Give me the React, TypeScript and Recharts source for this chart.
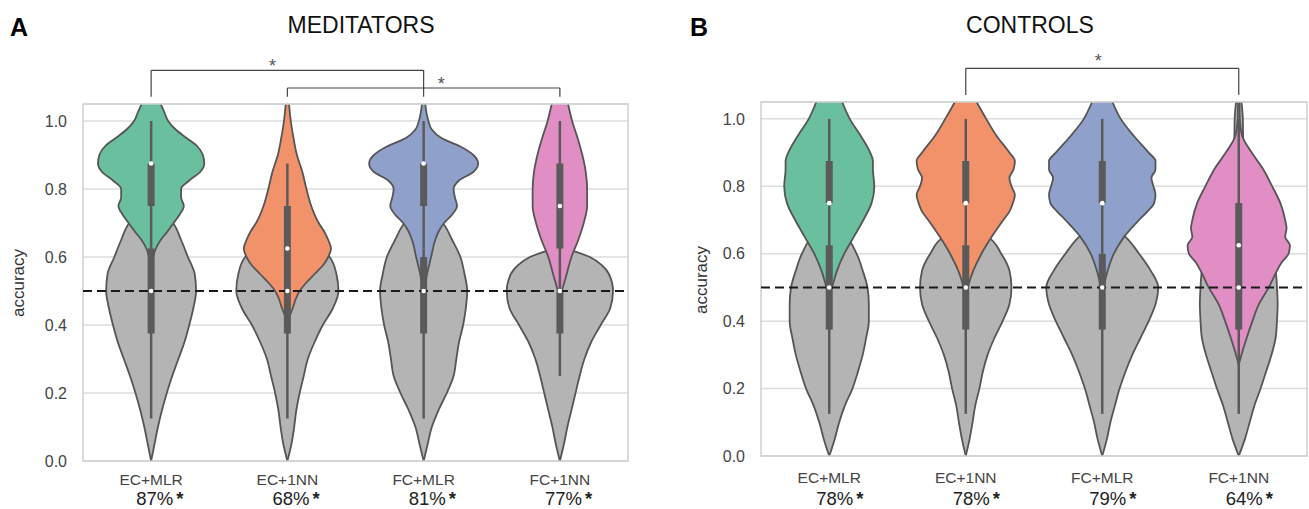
import React from 'react';
import { ComposedChart, Area, XAxis, YAxis, CartesianGrid, ReferenceLine, ReferenceDot, ReferenceArea } from 'recharts';

const CATEGORIES = ['EC+MLR', 'EC+1NN', 'FC+MLR', 'FC+1NN'];
const MED_PCT = ['87%', '68%', '81%', '77%'];
const CTRL_PCT = ['78%', '78%', '79%', '64%'];
const Y_TICKS = [0, 0.2, 0.4, 0.6, 0.8, 1.0];
const CHANCE = 0.5;

const COLORS = ['#6abf9f', '#f2926a', '#8fa1ca', '#e08ec3'];
const GRAY = '#b4b4b4';
const INK = '#555555';

// violin outlines: [accuracy, half width in category units]
const MED_EC_MLR = [[1.05, 0.07], [1.025, 0.098], [1.0, 0.125], [0.975, 0.18], [0.95, 0.26], [0.925, 0.34], [0.9, 0.38], [0.875, 0.39], [0.85, 0.36], [0.825, 0.28], [0.8, 0.22], [0.775, 0.22], [0.75, 0.24], [0.725, 0.21], [0.7, 0.165], [0.675, 0.12], [0.65, 0.07], [0.625, 0.035], [0.6, 0.015], [0.575, 0]];
const MED_EC_1NN = [[1.05, 0.012], [1.0, 0.025], [0.95, 0.045], [0.9, 0.07], [0.85, 0.11], [0.8, 0.14], [0.75, 0.175], [0.7, 0.23], [0.675, 0.27], [0.65, 0.3], [0.625, 0.32], [0.6, 0.3], [0.575, 0.26], [0.55, 0.2], [0.525, 0.14], [0.5, 0.09], [0.475, 0.06], [0.45, 0.04], [0.425, 0.015], [0.41, 0]];
const MED_FC_MLR = [[1.05, 0.012], [1.0, 0.035], [0.975, 0.06], [0.95, 0.13], [0.925, 0.27], [0.9, 0.365], [0.875, 0.4], [0.85, 0.365], [0.825, 0.26], [0.8, 0.22], [0.775, 0.23], [0.75, 0.245], [0.725, 0.21], [0.7, 0.15], [0.675, 0.11], [0.65, 0.085], [0.6, 0.055], [0.55, 0.025], [0.5, 0.005], [0.49, 0]];
const MED_FC_1NN = [[1.05, 0.06], [1.0, 0.09], [0.95, 0.13], [0.9, 0.165], [0.85, 0.19], [0.8, 0.2], [0.75, 0.2], [0.7, 0.175], [0.65, 0.135], [0.6, 0.085], [0.55, 0.05], [0.5, 0.015], [0.475, 0]];

const MED_EC_MLR_NULL = [[0.75, 0], [0.725, 0.1], [0.7, 0.16], [0.65, 0.22], [0.6, 0.27], [0.55, 0.32], [0.5, 0.33], [0.45, 0.31], [0.4, 0.28], [0.35, 0.245], [0.3, 0.2], [0.25, 0.155], [0.2, 0.115], [0.15, 0.08], [0.1, 0.05], [0.05, 0.025], [0, 0]];
const MED_EC_1NN_NULL = [[0.65, 0], [0.625, 0.2], [0.6, 0.31], [0.55, 0.36], [0.5, 0.375], [0.45, 0.335], [0.4, 0.26], [0.35, 0.2], [0.3, 0.15], [0.25, 0.12], [0.2, 0.09], [0.15, 0.066], [0.1, 0.05], [0.05, 0.03], [0, 0]];
const MED_FC_MLR_NULL = [[0.75, 0], [0.7, 0.14], [0.65, 0.21], [0.6, 0.27], [0.55, 0.3], [0.5, 0.32], [0.45, 0.31], [0.4, 0.29], [0.35, 0.26], [0.3, 0.24], [0.25, 0.22], [0.2, 0.17], [0.15, 0.11], [0.1, 0.06], [0.05, 0.03], [0, 0]];
const MED_FC_1NN_NULL = [[0.63, 0], [0.6, 0.22], [0.575, 0.31], [0.55, 0.36], [0.5, 0.39], [0.45, 0.37], [0.4, 0.3], [0.35, 0.23], [0.3, 0.18], [0.25, 0.145], [0.2, 0.115], [0.15, 0.085], [0.1, 0.055], [0.05, 0.03], [0, 0]];

const CTRL_EC_MLR = [[1.05, 0.095], [1.0, 0.15], [0.95, 0.23], [0.9, 0.3], [0.875, 0.32], [0.85, 0.32], [0.8, 0.33], [0.75, 0.31], [0.7, 0.25], [0.65, 0.18], [0.6, 0.11], [0.55, 0.057], [0.5, 0.02], [0.475, 0]];
const CTRL_EC_1NN = [[1.05, 0.08], [1.0, 0.15], [0.95, 0.225], [0.9, 0.32], [0.875, 0.36], [0.85, 0.35], [0.825, 0.32], [0.8, 0.335], [0.775, 0.36], [0.75, 0.345], [0.725, 0.32], [0.7, 0.275], [0.65, 0.19], [0.6, 0.115], [0.55, 0.055], [0.5, 0.015], [0.475, 0]];
const CTRL_FC_MLR = [[1.05, 0.075], [1.0, 0.135], [0.95, 0.23], [0.9, 0.34], [0.875, 0.39], [0.85, 0.39], [0.825, 0.36], [0.8, 0.375], [0.775, 0.39], [0.75, 0.38], [0.725, 0.33], [0.7, 0.27], [0.65, 0.16], [0.6, 0.085], [0.55, 0.04], [0.5, 0.01], [0.48, 0]];
const CTRL_FC_1NN = [[1.05, 0.005], [1.0, 0.008], [0.95, 0.025], [0.9, 0.095], [0.85, 0.18], [0.8, 0.245], [0.75, 0.305], [0.7, 0.34], [0.675, 0.35], [0.65, 0.34], [0.625, 0.375], [0.6, 0.365], [0.575, 0.315], [0.55, 0.28], [0.5, 0.22], [0.45, 0.147], [0.4, 0.1], [0.35, 0.058], [0.3, 0.02], [0.27, 0]];

const CTRL_EC_MLR_NULL = [[0.68, 0], [0.65, 0.12], [0.6, 0.2], [0.55, 0.245], [0.5, 0.28], [0.45, 0.29], [0.4, 0.29], [0.35, 0.27], [0.3, 0.245], [0.25, 0.21], [0.2, 0.17], [0.15, 0.115], [0.1, 0.073], [0.05, 0.04], [0, 0]];
const CTRL_EC_1NN_NULL = [[0.68, 0], [0.65, 0.16], [0.6, 0.26], [0.55, 0.32], [0.5, 0.335], [0.45, 0.32], [0.4, 0.27], [0.35, 0.21], [0.3, 0.16], [0.25, 0.125], [0.2, 0.1], [0.15, 0.07], [0.1, 0.05], [0.05, 0.028], [0, 0]];
const CTRL_FC_MLR_NULL = [[0.7, 0], [0.65, 0.17], [0.6, 0.27], [0.55, 0.355], [0.5, 0.41], [0.45, 0.39], [0.4, 0.34], [0.35, 0.28], [0.3, 0.22], [0.25, 0.17], [0.2, 0.127], [0.15, 0.093], [0.1, 0.06], [0.05, 0.034], [0, 0]];
const CTRL_FC_1NN_NULL = [[1.05, 0.02], [1.0, 0.03], [0.95, 0.032], [0.9, 0.04], [0.85, 0.05], [0.8, 0.065], [0.75, 0.09], [0.7, 0.12], [0.65, 0.17], [0.6, 0.23], [0.55, 0.27], [0.5, 0.28], [0.45, 0.285], [0.4, 0.28], [0.35, 0.27], [0.3, 0.24], [0.25, 0.2], [0.2, 0.16], [0.15, 0.115], [0.1, 0.08], [0.05, 0.045], [0, 0]];

// inner box plots: [whisker low, q1, median, q3, whisker high]
const MED_BOX = [[0.625, 0.75, 0.875, 0.875, 1.0], [0.375, 0.5, 0.625, 0.75, 0.875], [0.625, 0.75, 0.875, 0.875, 1.0], [0.5, 0.625, 0.75, 0.875, 1.0]];
const MED_NULL_BOX = [[0.125, 0.375, 0.5, 0.625, 0.625], [0.125, 0.375, 0.5, 0.5, 0.625], [0.125, 0.375, 0.5, 0.6, 0.625], [0.25, 0.375, 0.5, 0.5, 0.5]];
const CTRL_BOX = [[0.625, 0.75, 0.75, 0.875, 1.0], [0.625, 0.75, 0.75, 0.875, 1.0], [0.6, 0.75, 0.75, 0.875, 1.0], [0.375, 0.5, 0.625, 0.75, 1.0]];
const CTRL_NULL_BOX = [[0.125, 0.375, 0.5, 0.625, 0.625], [0.125, 0.375, 0.5, 0.625, 0.625], [0.125, 0.375, 0.5, 0.6, 0.6], [0.125, 0.375, 0.5, 0.5, 0.625]];

// significance brackets (category indices, accuracy units)
const MED_BRACKETS = [
  { from: 0, to: 2, top: 1.149, foot: 1.071, starX: 0.89, starY: 1.163 },
  { from: 1, to: 3, top: 1.097, foot: 1.071, starX: 2.13, starY: 1.109 },
];
const CTRL_BRACKETS = [{ from: 1, to: 3, top: 1.15, foot: 1.071, starX: 1.97, starY: 1.173 }];

const toRows = (profile: number[][], center: number) =>
  profile.map(([y, w]) => ({ y, r: [center - w, center + w] }));

function CategoryTick(props: any) {
  const { x, y, payload, pct, nameDy, pctDy, pctDx } = props;
  const i = payload.value;
  return (
    <g>
      <text x={x} y={y + nameDy} textAnchor="middle" fontSize={15.5} fill="#444">{CATEGORIES[i]}</text>
      <text x={x + pctDx} y={y + pctDy} fontSize={18.5} fill="#222">
        {pct[i]}
        <tspan dx={3} fontWeight={700}>*</tspan>
      </text>
    </g>
  );
}

function Panel(props: any) {
  const { violins, nulls, box, nullBox, pct, brackets, width, margin, yAxisWidth, nameDy, pctDy, pctDx } = props;
  const boxLines = (stats: number[][], key: string) =>
    stats.flatMap((s, i) => [
      <ReferenceLine key={key + 'w' + i} segment={[{ x: i, y: s[0] }, { x: i, y: s[4] }]} stroke="#5a5a5a" strokeWidth={2.5} />,
      <ReferenceLine key={key + 'b' + i} segment={[{ x: i, y: s[1] }, { x: i, y: s[3] }]} stroke="#5a5a5a" strokeWidth={7} />,
    ]);
  return (
    <ComposedChart width={width} height={509} layout="vertical" margin={margin}>
      <CartesianGrid vertical={false} stroke="#dcdcdc" strokeWidth={1.5} />
      <XAxis type="number" domain={[-0.5, 3.5]} ticks={[0, 1, 2, 3]} interval={0} allowDataOverflow
        axisLine={false} tickLine={false} tickSize={0} tickMargin={0} height={42}
        tick={<CategoryTick pct={pct} nameDy={nameDy} pctDy={pctDy} pctDx={pctDx} />} />
      <YAxis type="number" dataKey="y" domain={[0, 1.05]} ticks={Y_TICKS} reversed allowDataOverflow width={yAxisWidth}
        axisLine={false} tickLine={false} tickSize={0} tickMargin={16}
        tickFormatter={(v: number) => v.toFixed(1)} tick={{ fill: '#444', fontSize: 16 }} />
      {nulls.map((p: number[][], i: number) => (
        <Area key={'n' + i} data={toRows(p, i)} dataKey="r" type="monotone" fill={GRAY} fillOpacity={1}
          stroke={INK} strokeWidth={1.8} dot={false} activeDot={false} isAnimationActive={false} />
      ))}
      {violins.map((p: number[][], i: number) => (
        <Area key={'v' + i} data={toRows(p, i)} dataKey="r" type="monotone" fill={COLORS[i]} fillOpacity={1}
          stroke={INK} strokeWidth={1.8} dot={false} activeDot={false} isAnimationActive={false} />
      ))}
      {boxLines(nullBox, 'n')}
      {boxLines(box, 'c')}
      <ReferenceLine y={CHANCE} stroke="#1a1a1a" strokeWidth={2} strokeDasharray="9 5" />
      {nullBox.map((s: number[], i: number) => (
        <ReferenceDot key={'nm' + i} x={i} y={s[2]} r={2.3} fill="#fff" stroke="none" />
      ))}
      {box.map((s: number[], i: number) => (
        <ReferenceDot key={'cm' + i} x={i} y={s[2]} r={2.3} fill="#fff" stroke="none" />
      ))}
      <ReferenceArea x1={-0.5} x2={3.5} y1={0} y2={1.05} fill="none" stroke="#d0d0d0" strokeWidth={1.5} />
      {brackets.flatMap((b: any, i: number) => [
        <ReferenceLine key={'bh' + i} segment={[{ x: b.from, y: b.top }, { x: b.to, y: b.top }]} stroke="#444" strokeWidth={1.2} ifOverflow="visible" />,
        <ReferenceLine key={'bl' + i} segment={[{ x: b.from, y: b.top }, { x: b.from, y: b.foot }]} stroke="#444" strokeWidth={1.2} ifOverflow="visible" />,
        <ReferenceLine key={'br' + i} segment={[{ x: b.to, y: b.top }, { x: b.to, y: b.foot }]} stroke="#444" strokeWidth={1.2} ifOverflow="visible" />,
        <ReferenceDot key={'bs' + i} x={b.starX} y={b.starY} r={0} fill="none" stroke="none" ifOverflow="visible"
          label={{ value: '*', position: 'center', fill: '#555', fontSize: 18 }} />,
      ])}
    </ComposedChart>
  );
}

const text = (style: React.CSSProperties, content: string) => (
  <div style={{ position: 'absolute', lineHeight: 1, whiteSpace: 'nowrap', ...style }}>{content}</div>
);

export default function App() {
  return (
    <div style={{ position: 'absolute', left: 0, top: 0, width: 1309, height: 509, background: '#fff', overflow: 'hidden', fontFamily: '"Liberation Sans", Arial, sans-serif' }}>
      <div style={{ position: 'absolute', left: 0, top: 0 }}>
        <Panel violins={[MED_EC_MLR, MED_EC_1NN, MED_FC_MLR, MED_FC_1NN]}
          nulls={[MED_EC_MLR_NULL, MED_EC_1NN_NULL, MED_FC_MLR_NULL, MED_FC_1NN_NULL]}
          box={MED_BOX} nullBox={MED_NULL_BOX} pct={MED_PCT} brackets={MED_BRACKETS}
          width={640} margin={{ top: 104, right: 12, bottom: 6, left: 0 }} yAxisWidth={83}
          nameDy={24} pctDy={44} pctDx={-15} />
      </div>
      <div style={{ position: 'absolute', left: 660, top: 0 }}>
        <Panel violins={[CTRL_EC_MLR, CTRL_EC_1NN, CTRL_FC_MLR, CTRL_FC_1NN]}
          nulls={[CTRL_EC_MLR_NULL, CTRL_EC_1NN_NULL, CTRL_FC_MLR_NULL, CTRL_FC_1NN_NULL]}
          box={CTRL_BOX} nullBox={CTRL_NULL_BOX} pct={CTRL_PCT} brackets={CTRL_BRACKETS}
          width={649} margin={{ top: 102, right: 2, bottom: 11, left: 0 }} yAxisWidth={101}
          nameDy={27} pctDy={49} pctDx={-13} />
      </div>
      {text({ left: 10, top: 15, fontSize: 25, fontWeight: 700, color: '#000' }, 'A')}
      {text({ left: 361, top: 14, fontSize: 23, color: '#111', transform: 'translateX(-50%)' }, 'MEDITATORS')}
      {text({ left: 690, top: 15, fontSize: 25, fontWeight: 700, color: '#000' }, 'B')}
      {text({ left: 1030, top: 14, fontSize: 23, color: '#111', transform: 'translateX(-50%)' }, 'CONTROLS')}
      {text({ left: 18, top: 283, fontSize: 17, color: '#333', transform: 'translate(-50%, -50%) rotate(-90deg)' }, 'accuracy')}
      {text({ left: 701, top: 280, fontSize: 17, color: '#333', transform: 'translate(-50%, -50%) rotate(-90deg)' }, 'accuracy')}
    </div>
  );
}
